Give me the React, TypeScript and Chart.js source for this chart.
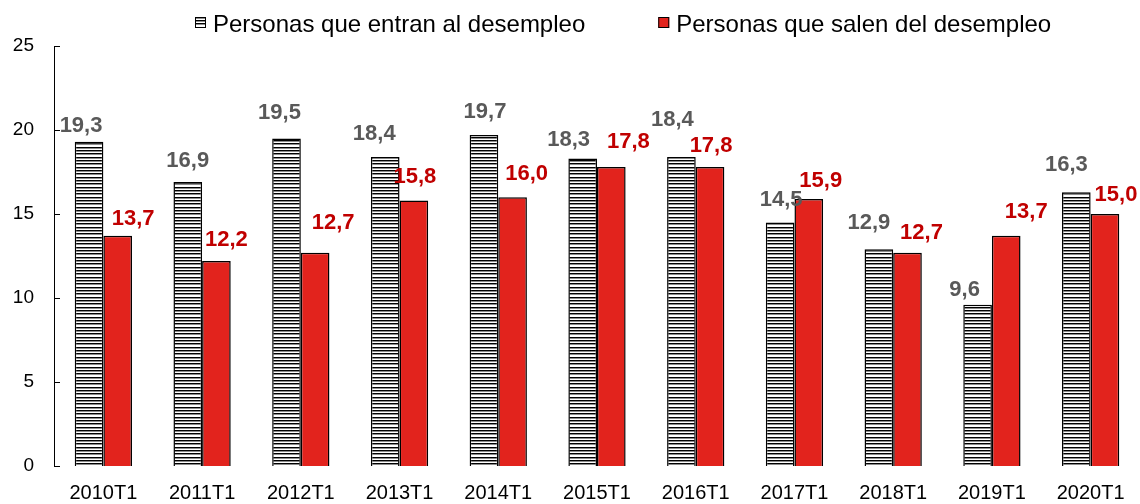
import React, { useEffect, useRef } from "react";
import { Chart, registerables } from "chart.js";

Chart.register(...registerables);

// ---- Data ----
const categories = ["2010T1", "2011T1", "2012T1", "2013T1", "2014T1", "2015T1", "2016T1", "2017T1", "2018T1", "2019T1", "2020T1"];
const entranValues = [19.3, 16.9, 19.5, 18.4, 19.7, 18.3, 18.4, 14.5, 12.9, 9.6, 16.3];
const salenValues = [13.7, 12.2, 12.7, 15.8, 16.0, 17.8, 17.8, 15.9, 12.7, 13.7, 15.0];
const yTicks = [0, 5, 10, 15, 20, 25];
const seriesNames = ["Personas que entran al desempleo", "Personas que salen del desempleo"];

// ---- Label placement (style: pixel offsets from each bar's top centre) ----
const entranLabelDx = [-8, 0, -7, -11, 1, -14, -9, 1, -10, -13, -10];
const entranLabelDy = [-16, -21.5, -25.5, -22.5, -23, -18.5, -36.5, -22, -26.5, -14.5, -27];
const salenLabelDx = [15.5, 10, 18, 1, 14, 17, 1, 12, 14, 20, 11];
const salenLabelDy = [-17, -21, -30, -24, -23, -25, -21.5, -17.5, -20, -23.5, -19];

const FONT = '"Liberation Sans", Arial, Helvetica, sans-serif';
const RED = "#E2231D";

function makeStripePattern(): CanvasPattern | string {
  const c = document.createElement("canvas");
  c.width = 4;
  c.height = 10;
  const g = c.getContext("2d");
  if (!g) return "#888";
  g.fillStyle = "#ffffff";
  g.fillRect(0, 0, 4, 10);
  g.fillStyle = "#000000";
  g.fillRect(0, 0, 4, 1);
  g.fillRect(0, 3, 4, 1);
  g.fillRect(0, 7, 4, 1);
  g.fillStyle = "rgba(0,0,0,0.45)";
  g.fillRect(0, 1, 4, 1);
  g.fillRect(0, 4, 4, 1);
  g.fillRect(0, 8, 4, 1);
  return g.createPattern(c, "repeat") || "#888";
}

const fmt = (v: number) => v.toFixed(1).replace(".", ",");

export default function App() {
  const ref = useRef<HTMLCanvasElement | null>(null);

  useEffect(() => {
    document.body.style.margin = "0";
    const canvas = ref.current;
    if (!canvas) return;
    const stripe = makeStripePattern();

    const labelPlugin = {
      id: "barLabels",
      afterDatasetsDraw(chart: any) {
        const ctx = chart.ctx;
        ctx.save();
        ctx.font = `bold 22px ${FONT}`;
        ctx.textAlign = "center";
        ctx.textBaseline = "middle";
        const specs = [
          { color: "#595959", dx: entranLabelDx, dy: entranLabelDy },
          { color: "#C00000", dx: salenLabelDx, dy: salenLabelDy },
        ];
        chart.data.datasets.forEach((ds: any, di: number) => {
          const meta = chart.getDatasetMeta(di);
          ctx.fillStyle = specs[di].color;
          meta.data.forEach((el: any, i: number) => {
            ctx.fillText(fmt(ds.data[i]), el.x + specs[di].dx[i], el.y + specs[di].dy[i]);
          });
        });
        ctx.restore();
      },
    };

    const axisTickPlugin = {
      id: "innerTicks",
      afterDraw(chart: any) {
        const ctx = chart.ctx;
        const y = chart.scales.y;
        const left = chart.chartArea.left;
        ctx.save();
        ctx.strokeStyle = "#000";
        ctx.lineWidth = 1;
        y.ticks.forEach((t: any) => {
          const py = Math.round(y.getPixelForValue(t.value)) + 0.5;
          ctx.beginPath();
          ctx.moveTo(left, py);
          ctx.lineTo(left + 6, py);
          ctx.stroke();
        });
        ctx.restore();
      },
    };

    const legendPlugin = {
      id: "customLegend",
      afterDraw(chart: any) {
        const ctx = chart.ctx;
        ctx.save();
        ctx.font = `24px ${FONT}`;
        ctx.textBaseline = "alphabetic";
        ctx.textAlign = "left";
        const box = 11;
        const gap = 7;
        const itemGap = 73;
        const widths = chart.data.datasets.map((d: any) => box + gap + ctx.measureText(d.label).width);
        const total = widths.reduce((a: number, b: number) => a + b, 0) + itemGap * (widths.length - 1);
        let x = Math.round(623.5 - total / 2);
        chart.data.datasets.forEach((d: any, i: number) => {
          ctx.fillStyle = d.backgroundColor;
          ctx.fillRect(x, 17, box, box);
          ctx.strokeStyle = "#000";
          ctx.lineWidth = 1;
          ctx.strokeRect(x + 0.5, 17.5, box - 1, box - 1);
          ctx.fillStyle = "#000";
          ctx.fillText(d.label, x + box + gap, 32);
          x += widths[i] + itemGap;
        });
        ctx.restore();
      },
    };

    const chart = new Chart(canvas, {
      type: "bar",
      data: {
        labels: categories,
        datasets: [
          {
            label: seriesNames[0],
            data: entranValues,
            backgroundColor: stripe as any,
            borderColor: "#000",
            borderWidth: 1.5,
            barPercentage: 1,
            categoryPercentage: 0.58,
          },
          {
            label: seriesNames[1],
            data: salenValues,
            backgroundColor: RED,
            borderColor: "#000",
            borderWidth: 1.5,
            barPercentage: 1,
            categoryPercentage: 0.58,
          },
        ],
      },
      options: {
        responsive: false,
        maintainAspectRatio: false,
        animation: false,
        layout: { padding: { top: 46, left: 0, right: 0, bottom: 0 } },
        plugins: {
          legend: { display: false },
          tooltip: { enabled: false },
        },
        scales: {
          x: {
            grid: { display: false, drawTicks: false },
            border: { display: false },
            ticks: {
              color: "#000",
              font: { size: 20, family: FONT },
              padding: 15,
              maxRotation: 0,
              autoSkip: false,
            },
            afterFit: (s: any) => {
              s.height = 38;
            },
          },
          y: {
            min: 0,
            max: 25,
            grid: { display: false, drawTicks: false },
            border: { display: true, color: "#000", width: 1 },
            ticks: {
              color: "#000",
              font: { size: 19, family: FONT },
              padding: 20,
            },
            afterBuildTicks: (s: any) => {
              s.ticks = yTicks.map((v) => ({ value: v }));
            },
            afterFit: (s: any) => {
              s.width = 54;
            },
          },
        },
      },
      plugins: [labelPlugin, axisTickPlugin, legendPlugin],
    });

    return () => chart.destroy();
  }, []);

  return (
    <div style={{ width: 1140, height: 504, background: "#fff" }}>
      <canvas ref={ref} width={1140} height={504} style={{ display: "block" }} />
    </div>
  );
}
